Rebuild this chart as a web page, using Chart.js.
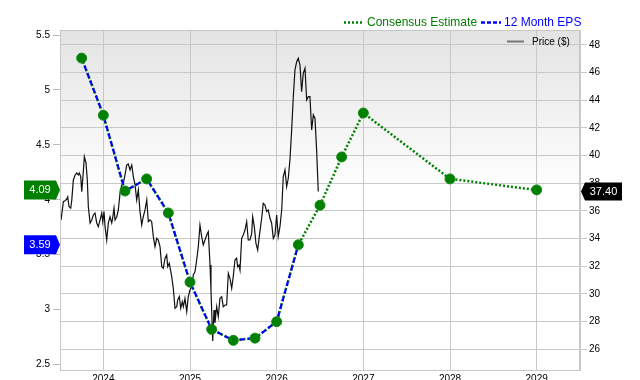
<!DOCTYPE html>
<html>
<head>
<meta charset="utf-8">
<script src="https://cdn.jsdelivr.net/npm/chart.js@4.4.1/dist/chart.umd.min.js"></script>
<style>
  html, body { margin: 0; padding: 0; background: #fff; }
  #wrap { width: 640px; height: 380px; }
</style>
</head>
<body>
<div id="wrap"><canvas id="chart" width="640" height="380"></canvas></div>
<script>
// axis ticks
const yearTicks = [2024, 2025, 2026, 2027, 2028, 2029];
const epsTicks = [2.5, 3, 3.5, 4, 4.5, 5, 5.5];
const priceTicks = [26, 28, 30, 32, 34, 36, 38, 40, 42, 44, 46, 48];

// 12 month EPS (actuals)
const epsDates = [2023.75, 2024, 2024.25, 2024.5, 2024.75, 2025, 2025.25, 2025.5, 2025.75, 2026, 2026.25];
const epsValues = [5.29, 4.77, 4.08, 4.19, 3.88, 3.25, 2.82, 2.72, 2.74, 2.89, 3.59];

// consensus estimate (covers history + forward quarters/years)
const consensusDates = [2023.75, 2024, 2024.25, 2024.5, 2024.75, 2025, 2025.25, 2025.5, 2025.75, 2026, 2026.25,
  2026.5, 2026.75, 2027, 2028, 2029];
const consensusValues = [5.29, 4.77, 4.08, 4.19, 3.88, 3.25, 2.82, 2.72, 2.74, 2.89, 3.59,
  3.95, 4.39, 4.79, 4.19, 4.09];

// share price
const priceDates = [
  2023.512, 2023.539, 2023.558, 2023.578, 2023.589, 2023.604, 2023.624, 2023.636, 2023.654, 2023.674,
  2023.693, 2023.712, 2023.723, 2023.739, 2023.751, 2023.769, 2023.781, 2023.800, 2023.815, 2023.827,
  2023.847, 2023.866, 2023.885, 2023.904, 2023.924, 2023.942, 2023.962, 2023.982, 2023.993, 2024.008,
  2024.020, 2024.039, 2024.058, 2024.077, 2024.097, 2024.108, 2024.123, 2024.135, 2024.155, 2024.173,
  2024.193, 2024.212, 2024.231, 2024.250, 2024.270, 2024.288, 2024.308, 2024.328, 2024.346, 2024.366,
  2024.385, 2024.404, 2024.423, 2024.443, 2024.461, 2024.481, 2024.501, 2024.519, 2024.539, 2024.558,
  2024.577, 2024.596, 2024.616, 2024.634, 2024.654, 2024.674, 2024.692, 2024.712, 2024.731, 2024.743,
  2024.761, 2024.789, 2024.807, 2024.827, 2024.847, 2024.858, 2024.877, 2024.893, 2024.911, 2024.923,
  2024.942, 2024.962, 2024.980, 2025.000, 2025.020, 2025.038, 2025.058, 2025.077, 2025.096, 2025.115,
  2025.135, 2025.153, 2025.173, 2025.193, 2025.211, 2025.231, 2025.242, 2025.262, 2025.277, 2025.288,
  2025.308, 2025.326, 2025.346, 2025.366, 2025.384, 2025.404, 2025.423, 2025.442, 2025.461, 2025.481,
  2025.499, 2025.519, 2025.538, 2025.550, 2025.565, 2025.577, 2025.596, 2025.615, 2025.634, 2025.654,
  2025.672, 2025.692, 2025.712, 2025.723, 2025.742, 2025.761, 2025.781, 2025.799, 2025.827, 2025.845,
  2025.865, 2025.885, 2025.903, 2025.923, 2025.942, 2025.961, 2025.980, 2026.000, 2026.018, 2026.038,
  2026.058, 2026.076, 2026.096, 2026.115, 2026.134, 2026.153, 2026.173, 2026.192, 2026.211, 2026.231,
  2026.249, 2026.269, 2026.288, 2026.307, 2026.327, 2026.346, 2026.365, 2026.384, 2026.404, 2026.423,
  2026.442, 2026.461, 2026.480
];
const priceValues = [
  35.35, 36.67, 36.74, 36.86, 37.01, 36.31, 36.21, 36.79, 38.24, 38.60,
  38.74, 38.60, 38.74, 38.48, 37.39, 38.84, 39.92, 39.47, 38.24, 36.31,
  35.13, 35.35, 35.71, 35.85, 35.13, 34.86, 35.35, 35.85, 35.22, 35.95,
  34.86, 33.90, 35.13, 35.58, 35.13, 35.49, 36.21, 35.35, 35.58, 36.07,
  37.30, 37.88, 38.02, 38.60, 39.32, 39.40, 38.96, 39.32, 38.48, 37.88,
  36.79, 37.52, 35.95, 34.98, 35.58, 36.07, 36.79, 35.22, 35.35, 35.22,
  34.14, 33.42, 34.02, 33.90, 33.42, 31.97, 31.85, 32.58, 32.82, 31.97,
  32.22, 31.25, 30.41, 28.96, 29.08, 29.56, 29.80, 28.96, 29.44, 29.08,
  29.68, 28.72, 29.80, 30.28, 30.52, 31.37, 31.61, 32.45, 33.42, 34.98,
  34.14, 33.54, 33.90, 34.26, 34.50, 32.09, 30.28, 26.60, 28.84, 27.90,
  29.08, 28.35, 29.68, 29.80, 29.08, 29.20, 29.20, 31.49, 31.13, 30.41,
  31.25, 32.45, 32.58, 31.97, 32.09, 31.73, 34.02, 34.26, 34.62, 35.22,
  33.90, 33.90, 34.38, 35.58, 34.86, 33.66, 33.18, 34.14, 35.47, 36.55,
  36.43, 35.95, 36.07, 35.47, 35.11, 34.02, 34.26, 35.71, 34.14, 34.86,
  36.07, 38.48, 38.96, 37.75, 38.36, 39.68, 41.85, 44.26, 46.19, 46.79,
  47.04, 46.55, 44.62, 45.95, 46.32, 44.02, 44.26, 44.26, 41.85, 42.94,
  42.70, 40.41, 37.40
];

const GREEN = '#008000';
const BLUE = '#0000ff';
const GRID = '#c8c8c8';
const FONT = "'Liberation Sans', Arial, sans-serif";

function toXY(xs, ys) {
  return xs.map((x, i) => ({ x: x, y: ys[i] }));
}

// plot background: grey at top fading to white
const backdrop = {
  id: 'backdrop',
  beforeDraw(chart) {
    const { ctx, chartArea: a } = chart;
    const g = ctx.createLinearGradient(0, a.top, 0, a.top + (a.bottom - a.top) * 0.48);
    g.addColorStop(0, '#e3e3e3');
    g.addColorStop(1, '#ffffff');
    ctx.save();
    ctx.fillStyle = g;
    ctx.fillRect(a.left, a.top, a.right - a.left, a.bottom - a.top);
    ctx.restore();
  }
};

function tag(ctx, x0, x1, tip, y, text, color) {
  ctx.beginPath();
  if (tip > x1) {
    ctx.moveTo(x0, y - 9.5); ctx.lineTo(x1, y - 9.5); ctx.lineTo(tip, y);
    ctx.lineTo(x1, y + 9.5); ctx.lineTo(x0, y + 9.5);
  } else {
    ctx.moveTo(x1, y - 9); ctx.lineTo(x0, y - 9); ctx.lineTo(tip, y);
    ctx.lineTo(x0, y + 9); ctx.lineTo(x1, y + 9);
  }
  ctx.closePath();
  ctx.fillStyle = color;
  ctx.fill();
  ctx.fillStyle = '#fff';
  ctx.font = '11px ' + FONT;
  ctx.textAlign = 'center';
  ctx.textBaseline = 'middle';
  ctx.fillText(text, (x0 + x1) / 2, y + 0.5);
}

const overlay = {
  id: 'overlay',
  afterDraw(chart) {
    const { ctx, chartArea: a } = chart;
    ctx.save();
    // frame
    ctx.strokeStyle = GRID;
    ctx.lineWidth = 1;
    ctx.strokeRect(a.left + 0.5, a.top + 0.5, a.right - a.left - 1, a.bottom - a.top);

    // top legend
    ctx.lineWidth = 2.5;
    ctx.setLineDash([2, 2]);
    ctx.strokeStyle = GREEN;
    ctx.beginPath(); ctx.moveTo(344, 22.5); ctx.lineTo(363, 22.5); ctx.stroke();
    ctx.setLineDash([4, 2]);
    ctx.strokeStyle = BLUE;
    ctx.beginPath(); ctx.moveTo(481, 22.5); ctx.lineTo(501, 22.5); ctx.stroke();
    ctx.setLineDash([]);
    ctx.font = '12px ' + FONT;
    ctx.textAlign = 'left';
    ctx.textBaseline = 'middle';
    ctx.fillStyle = GREEN;
    ctx.fillText('Consensus Estimate', 367, 23);
    ctx.fillStyle = BLUE;
    ctx.fillText('12 Month EPS', 504, 23);

    // price legend
    ctx.strokeStyle = '#777';
    ctx.lineWidth = 2;
    ctx.beginPath(); ctx.moveTo(507, 41.5); ctx.lineTo(524, 41.5); ctx.stroke();
    ctx.font = '10px ' + FONT;
    ctx.fillStyle = '#000';
    ctx.fillText('Price ($)', 532, 42);

    // last value tags
    const yE = chart.scales.yEps;
    const yP = chart.scales.yPrice;
    const lastCons = consensusValues[consensusValues.length - 1];
    const lastEps = epsValues[epsValues.length - 1];
    const lastPrice = priceValues[priceValues.length - 1];
    tag(ctx, 24, 56, 60, yE.getPixelForValue(lastCons), lastCons.toFixed(2), GREEN);
    tag(ctx, 24, 56, 60, yE.getPixelForValue(lastEps), lastEps.toFixed(2), BLUE);
    tag(ctx, 585, 622, 581, yP.getPixelForValue(lastPrice), lastPrice.toFixed(2), '#000');
    ctx.restore();
  }
};

const ctx = document.getElementById('chart').getContext('2d');
Chart.defaults.font.family = FONT;
Chart.defaults.color = '#000';

new Chart(ctx, {
  type: 'line',
  data: {
    datasets: [
      {
        label: 'Price ($)',
        data: toXY(priceDates, priceValues),
        yAxisID: 'yPrice',
        borderColor: '#111',
        borderWidth: 1.2,
        pointRadius: 0,
        tension: 0,
        order: 4
      },
      {
        label: 'Consensus Estimate',
        data: toXY(consensusDates, consensusValues),
        yAxisID: 'yEps',
        borderColor: GREEN,
        borderWidth: 2.5,
        borderDash: [2, 2],
        pointRadius: 0,
        order: 3
      },
      {
        label: '12 Month EPS',
        data: toXY(epsDates, epsValues),
        yAxisID: 'yEps',
        borderColor: BLUE,
        borderWidth: 2.2,
        borderDash: [5, 3],
        pointRadius: 0,
        order: 2
      },
      {
        label: 'markers',
        data: toXY(consensusDates, consensusValues),
        yAxisID: 'yEps',
        showLine: false,
        pointRadius: 5,
        pointBackgroundColor: GREEN,
        pointBorderColor: '#1a8c1a',
        pointBorderWidth: 1,
        order: 1
      }
    ]
  },
  options: {
    responsive: false,
    animation: false,
    devicePixelRatio: 1,
    layout: { padding: { top: 30, left: 0, right: 0, bottom: 0 } },
    plugins: {
      legend: { display: false },
      tooltip: { enabled: false }
    },
    scales: {
      x: {
        type: 'linear',
        min: 2023.5,
        max: 2029.5,
        afterBuildTicks: s => { s.ticks = yearTicks.map(v => ({ value: v })); },
        afterFit: s => { s.height = 10; },
        ticks: {
          callback: v => String(v),
          font: { size: 10 },
          padding: 3,
          maxRotation: 0,
          autoSkip: false
        },
        grid: { color: GRID, drawTicks: false },
        border: { color: GRID }
      },
      yEps: {
        type: 'linear',
        position: 'left',
        min: 2.45,
        max: 5.546,
        afterBuildTicks: s => { s.ticks = epsTicks.map(v => ({ value: v })); },
        afterFit: s => { s.width = 60; },
        ticks: {
          callback: v => String(v),
          font: { size: 10 },
          padding: 3
        },
        grid: { drawOnChartArea: false, tickLength: 7, color: '#bbb' },
        border: { color: GRID }
      },
      yPrice: {
        type: 'linear',
        position: 'right',
        min: 24.5,
        max: 49.08,
        afterBuildTicks: s => { s.ticks = priceTicks.map(v => ({ value: v })); },
        afterFit: s => { s.width = 60; },
        ticks: {
          callback: v => String(v),
          font: { size: 10 },
          padding: 2
        },
        grid: { color: GRID, tickLength: 7 },
        border: { color: GRID }
      }
    }
  },
  plugins: [backdrop, overlay]
});
</script>
</body>
</html>
